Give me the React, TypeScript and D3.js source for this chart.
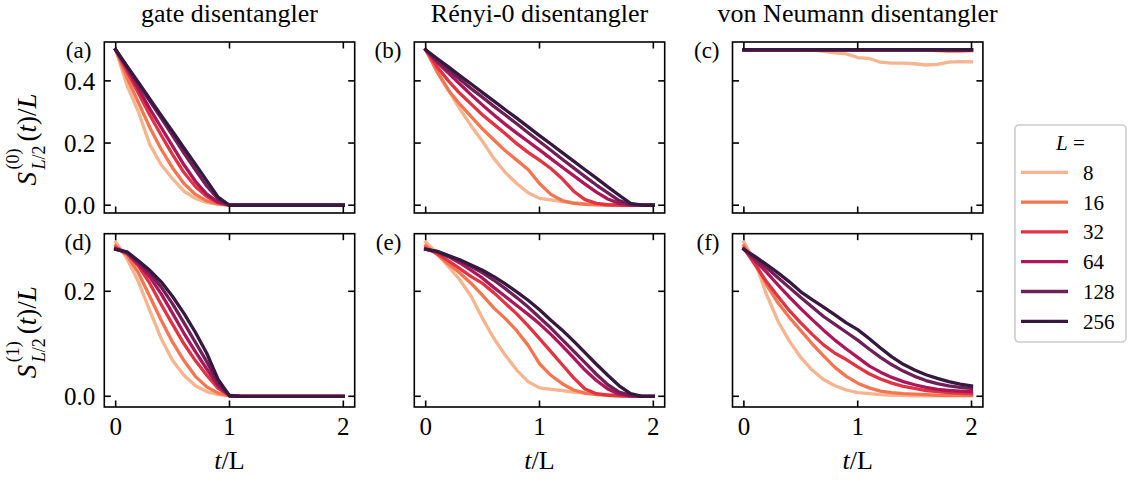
import React from 'react';
import * as d3 from 'd3';

// ---------- data ----------
const SIZES = [8, 16, 32, 64, 128, 256];
const COLORS = ['#f6b48f', '#f37651', '#e13342', '#ad1759', '#701f57', '#35193e'];
const T = [0, 0.1, 0.2, 0.3, 0.4, 0.5, 0.6, 0.7, 0.8, 0.9, 1.0, 1.1, 1.2, 1.3, 1.4, 1.5, 1.6, 1.7, 1.8, 1.9, 2.0];

// (a) gate disentangler, S^(0)
const gateS0 = [
  [0.5, 0.385, 0.3, 0.195, 0.13, 0.085, 0.045, 0.022, 0.009, 0.003, 0, 0, 0, 0, 0, 0, 0, 0, 0, 0, 0],
  [0.5, 0.41, 0.33, 0.25, 0.18, 0.12, 0.07, 0.035, 0.014, 0.004, 0, 0, 0, 0, 0, 0, 0, 0, 0, 0, 0],
  [0.5, 0.43, 0.36, 0.29, 0.225, 0.163, 0.105, 0.06, 0.028, 0.008, 0, 0, 0, 0, 0, 0, 0, 0, 0, 0, 0],
  [0.5, 0.44, 0.375, 0.31, 0.25, 0.19, 0.13, 0.077, 0.036, 0.01, 0, 0, 0, 0, 0, 0, 0, 0, 0, 0, 0],
  [0.5, 0.445, 0.39, 0.335, 0.28, 0.224, 0.168, 0.114, 0.062, 0.02, 0, 0, 0, 0, 0, 0, 0, 0, 0, 0, 0],
  [0.5, 0.447, 0.395, 0.342, 0.289, 0.237, 0.184, 0.132, 0.079, 0.026, 0, 0, 0, 0, 0, 0, 0, 0, 0, 0, 0],
];
// (b) Renyi-0 disentangler, S^(0)
const renyiS0 = [
  [0.5, 0.43, 0.37, 0.31, 0.255, 0.205, 0.15, 0.105, 0.07, 0.04, 0.022, 0.017, 0.012, 0.008, 0.005, 0.003, 0.002, 0.001, 0, 0, 0],
  [0.5, 0.43, 0.37, 0.325, 0.285, 0.245, 0.21, 0.175, 0.145, 0.115, 0.07, 0.035, 0.015, 0.006, 0.003, 0.001, 0, 0, 0, 0, 0],
  [0.5, 0.445, 0.4, 0.36, 0.325, 0.29, 0.26, 0.23, 0.198, 0.17, 0.145, 0.118, 0.085, 0.045, 0.018, 0.006, 0.002, 0, 0, 0, 0],
  [0.5, 0.46, 0.425, 0.39, 0.355, 0.322, 0.29, 0.26, 0.232, 0.205, 0.178, 0.15, 0.122, 0.095, 0.068, 0.042, 0.02, 0.006, 0.001, 0, 0],
  [0.5, 0.465, 0.435, 0.405, 0.375, 0.347, 0.318, 0.29, 0.262, 0.233, 0.205, 0.177, 0.148, 0.12, 0.092, 0.065, 0.04, 0.015, 0.002, 0, 0],
  [0.5, 0.472, 0.445, 0.417, 0.39, 0.362, 0.335, 0.307, 0.28, 0.252, 0.224, 0.197, 0.169, 0.142, 0.114, 0.087, 0.059, 0.032, 0.006, 0, 0],
];
// (c) von Neumann disentangler, S^(0)
const vonNeumannS0 = [
  [0.5, 0.5, 0.5, 0.5, 0.5, 0.5, 0.499, 0.495, 0.49, 0.487, 0.475, 0.472, 0.46, 0.457, 0.457, 0.455, 0.451, 0.453, 0.46, 0.462, 0.461],
  [0.5, 0.5, 0.5, 0.5, 0.5, 0.5, 0.5, 0.5, 0.5, 0.5, 0.5, 0.5, 0.5, 0.5, 0.5, 0.5, 0.5, 0.497, 0.496, 0.496, 0.497],
  [0.5, 0.5, 0.5, 0.5, 0.5, 0.5, 0.5, 0.5, 0.5, 0.5, 0.5, 0.5, 0.5, 0.5, 0.5, 0.5, 0.5, 0.5, 0.5, 0.5, 0.5],
  [0.5, 0.5, 0.5, 0.5, 0.5, 0.5, 0.5, 0.5, 0.5, 0.5, 0.5, 0.5, 0.5, 0.5, 0.5, 0.5, 0.5, 0.5, 0.5, 0.5, 0.5],
  [0.5, 0.5, 0.5, 0.5, 0.5, 0.5, 0.5, 0.5, 0.5, 0.5, 0.5, 0.5, 0.5, 0.5, 0.5, 0.5, 0.5, 0.5, 0.5, 0.5, 0.5],
  [0.5, 0.5, 0.5, 0.5, 0.5, 0.5, 0.5, 0.5, 0.5, 0.5, 0.5, 0.5, 0.5, 0.5, 0.5, 0.5, 0.5, 0.5, 0.5, 0.5, 0.5],
];
// (d) gate disentangler, S^(1)
const gateS1 = [
  [0.294, 0.262, 0.218, 0.163, 0.11, 0.068, 0.04, 0.02, 0.009, 0.003, 0.001, 0, 0, 0, 0, 0, 0, 0, 0, 0, 0],
  [0.287, 0.268, 0.235, 0.19, 0.145, 0.103, 0.068, 0.038, 0.018, 0.006, 0.001, 0, 0, 0, 0, 0, 0, 0, 0, 0, 0],
  [0.283, 0.272, 0.248, 0.215, 0.175, 0.137, 0.1, 0.068, 0.04, 0.015, 0.002, 0, 0, 0, 0, 0, 0, 0, 0, 0, 0],
  [0.281, 0.273, 0.252, 0.227, 0.195, 0.158, 0.12, 0.085, 0.052, 0.02, 0.001, 0, 0, 0, 0, 0, 0, 0, 0, 0, 0],
  [0.28, 0.274, 0.256, 0.235, 0.208, 0.176, 0.14, 0.103, 0.066, 0.026, 0.001, 0, 0, 0, 0, 0, 0, 0, 0, 0, 0],
  [0.28, 0.275, 0.258, 0.24, 0.218, 0.19, 0.158, 0.122, 0.082, 0.032, 0.001, 0, 0, 0, 0, 0, 0, 0, 0, 0, 0],
];
// (e) Renyi-0 disentangler, S^(1)
const renyiS1 = [
  [0.294, 0.272, 0.247, 0.222, 0.19, 0.148, 0.11, 0.078, 0.05, 0.028, 0.016, 0.013, 0.011, 0.008, 0.006, 0.004, 0.003, 0.002, 0.001, 0, 0],
  [0.287, 0.27, 0.252, 0.235, 0.215, 0.192, 0.168, 0.148, 0.125, 0.097, 0.062, 0.04, 0.024, 0.012, 0.006, 0.003, 0.002, 0.001, 0, 0, 0],
  [0.282, 0.272, 0.258, 0.243, 0.228, 0.215, 0.197, 0.177, 0.157, 0.134, 0.11, 0.085, 0.06, 0.035, 0.014, 0.005, 0.002, 0.001, 0, 0, 0],
  [0.28, 0.275, 0.266, 0.254, 0.24, 0.225, 0.207, 0.19, 0.173, 0.156, 0.138, 0.118, 0.096, 0.073, 0.05, 0.03, 0.014, 0.004, 0.001, 0, 0],
  [0.28, 0.276, 0.267, 0.258, 0.247, 0.235, 0.221, 0.205, 0.188, 0.17, 0.15, 0.13, 0.108, 0.086, 0.064, 0.042, 0.022, 0.008, 0.002, 0, 0],
  [0.28, 0.276, 0.268, 0.26, 0.25, 0.24, 0.228, 0.214, 0.199, 0.183, 0.165, 0.145, 0.126, 0.105, 0.083, 0.061, 0.04, 0.02, 0.005, 0, 0],
];
// (f) von Neumann disentangler, S^(1)
const vonNeumannS1 = [
  [0.294, 0.255, 0.193, 0.143, 0.105, 0.074, 0.05, 0.032, 0.02, 0.012, 0.007, 0.005, 0.003, 0.002, 0.002, 0.001, 0.001, 0.001, 0.001, 0.001, 0.001],
  [0.287, 0.255, 0.212, 0.178, 0.15, 0.125, 0.1, 0.077, 0.055, 0.038, 0.025, 0.016, 0.01, 0.007, 0.005, 0.004, 0.003, 0.002, 0.002, 0.002, 0.002],
  [0.282, 0.25, 0.218, 0.19, 0.163, 0.14, 0.118, 0.098, 0.082, 0.07, 0.056, 0.043, 0.033, 0.025, 0.019, 0.015, 0.011, 0.009, 0.007, 0.006, 0.005],
  [0.28, 0.258, 0.236, 0.212, 0.189, 0.167, 0.146, 0.126, 0.107, 0.09, 0.074, 0.058, 0.046, 0.036, 0.028, 0.022, 0.017, 0.013, 0.011, 0.01, 0.009],
  [0.28, 0.263, 0.245, 0.226, 0.207, 0.188, 0.17, 0.152, 0.137, 0.122, 0.107, 0.09, 0.074, 0.06, 0.048, 0.038, 0.03, 0.024, 0.02, 0.017, 0.015],
  [0.28, 0.266, 0.251, 0.235, 0.218, 0.199, 0.184, 0.17, 0.155, 0.14, 0.127, 0.11, 0.092, 0.075, 0.061, 0.05, 0.041, 0.034, 0.028, 0.023, 0.02],
];

const TITLES = ['gate disentangler', 'Rényi-0 disentangler', 'von Neumann disentangler'];
const PANEL_LABELS = ['(a)', '(b)', '(c)', '(d)', '(e)', '(f)'];
const X_TICKS = [0, 1, 2];
const Y_TICKS_TOP = [0.0, 0.2, 0.4];
const Y_TICKS_BOTTOM = [0.0, 0.2];
const PANEL_DATA = [gateS0, renyiS0, vonNeumannS0, gateS1, renyiS1, vonNeumannS1];

// ---------- layout ----------
const W = 1132;
const H = 484;
const FONT = "'Liberation Serif', 'Times New Roman', serif";
const COL_LEFT = [104.3, 414.3, 732.5];
const PW = 250.4;
const ROW_TOP = [42, 233.7];
const ROW_H = [171, 173.3];
const Y_DOMAINS: [number, number][] = [[-0.025, 0.525], [-0.0204, 0.3097]];
const X_DOMAIN: [number, number] = [-0.1, 2.1];
const TICK = 6.5;
const LW = 3.3;

function Panel({ idx }: { idx: number }) {
  const row = Math.floor(idx / 3);
  const col = idx % 3;
  const left = COL_LEFT[col];
  const top = ROW_TOP[row];
  const h = ROW_H[row];
  const x = d3.scaleLinear().domain(X_DOMAIN).range([left, left + PW]);
  const y = d3.scaleLinear().domain(Y_DOMAINS[row]).range([top + h, top]);
  const yTicks = row === 0 ? Y_TICKS_TOP : Y_TICKS_BOTTOM;
  const line = d3.line<number>().x((_, i) => x(T[i])).y((v) => y(v));
  const clipId = `clip-${idx}`;
  const data = PANEL_DATA[idx];
  return (
    <g>
      <defs>
        <clipPath id={clipId}>
          <rect x={left} y={top} width={PW} height={h} />
        </clipPath>
      </defs>
      <g clipPath={`url(#${clipId})`}>
        {data.map((series, i) => (
          <path key={i} d={line(series) || ''} fill="none" stroke={COLORS[i]} strokeWidth={LW}
            strokeLinejoin="round" strokeLinecap="square" />
        ))}
      </g>
      {X_TICKS.map((t) => (
        <g key={`xt${t}`}>
          <line x1={x(t)} x2={x(t)} y1={top + h} y2={top + h - TICK} stroke="#000" strokeWidth={1.6} />
          <line x1={x(t)} x2={x(t)} y1={top} y2={top + TICK} stroke="#000" strokeWidth={1.6} />
          {row === 1 && (
            <text x={x(t)} y={top + h + 28} textAnchor="middle" fontSize={25} fontFamily={FONT}>{t}</text>
          )}
        </g>
      ))}
      {yTicks.map((v) => (
        <g key={`yt${v}`}>
          <line x1={left} x2={left + TICK} y1={y(v)} y2={y(v)} stroke="#000" strokeWidth={1.6} />
          <line x1={left + PW} x2={left + PW - TICK} y1={y(v)} y2={y(v)} stroke="#000" strokeWidth={1.6} />
          {col === 0 && (
            <text x={left - 9} y={y(v)} dy="0.35em" textAnchor="end" fontSize={25} fontFamily={FONT}>{v.toFixed(1)}</text>
          )}
        </g>
      ))}
      <rect x={left} y={top} width={PW} height={h} fill="none" stroke="#000" strokeWidth={1.6} />
      <text x={left - 13} y={top + 16} textAnchor="end" fontSize={23} fontFamily={FONT}>{PANEL_LABELS[idx]}</text>
      {row === 0 && (
        <text x={left + PW / 2} y={22} textAnchor="middle" fontSize={26} fontFamily={FONT}>{TITLES[col]}</text>
      )}
      {row === 1 && (
        <text x={left + PW / 2} y={469} textAnchor="middle" fontSize={26} fontFamily={FONT}>
          <tspan fontStyle="italic">t</tspan>/L
        </text>
      )}
    </g>
  );
}

function YLabel({ row, order }: { row: number; order: string }) {
  const cy = ROW_TOP[row] + ROW_H[row] / 2;
  return (
    <g transform={`translate(36, ${cy}) rotate(-90)`} fontFamily={FONT}>
      <text x={-58} y={0} fontSize={27} fontStyle="italic">S</text>
      <text x={-42} y={-17} fontSize={18}>({order})</text>
      <text x={-42} y={9} fontSize={18}><tspan fontStyle="italic">L</tspan>/2</text>
      <text x={-14} y={0} fontSize={27}>
        (<tspan fontStyle="italic">t</tspan>)/<tspan fontStyle="italic">L</tspan>
      </text>
    </g>
  );
}

function Legend() {
  const lx = 1015;
  const ly = 125;
  const y0 = 172.3;
  const dy = 29.8;
  return (
    <g fontFamily={FONT}>
      <rect x={lx} y={ly} width={111} height={217} rx={4} fill="#fff" stroke="#cccccc" strokeWidth={1.6} />
      <text x={lx + 55.5} y={150} textAnchor="middle" fontSize={21}>
        <tspan fontStyle="italic">L</tspan> =
      </text>
      {SIZES.map((s, i) => (
        <g key={s}>
          <line x1={1021} x2={1068} y1={y0 + i * dy} y2={y0 + i * dy} stroke={COLORS[i]} strokeWidth={LW} />
          <text x={1083} y={y0 + i * dy + 7.5} fontSize={21}>{s}</text>
        </g>
      ))}
    </g>
  );
}

export default function App() {
  return (
    <svg width={W} height={H} style={{ position: 'absolute', left: 0, top: 0, background: '#fff' }}>
      {[0, 1, 2, 3, 4, 5].map((i) => <Panel key={i} idx={i} />)}
      <YLabel row={0} order="0" />
      <YLabel row={1} order="1" />
      <Legend />
    </svg>
  );
}
